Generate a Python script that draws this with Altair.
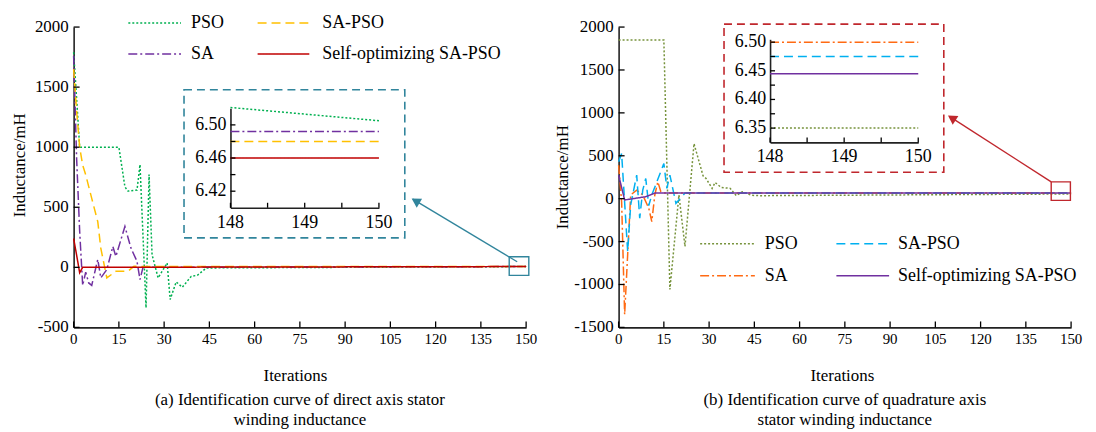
import altair as alt
import pandas as pd

FONT = "Liberation Serif"
W, H = 455, 302

series_names = ["PSO", "SA", "SA-PSO", "Self-optimizing SA-PSO"]

# ---------------- (a) direct axis ----------------
d_pso_x = [0, 1, 2, 15, 17, 18, 21, 22, 24, 25, 26, 28, 31, 32, 34, 36, 39, 41, 44, 150]
d_pso_y = [1790, 1400, 1000, 1000, 670, 635, 643, 855, -337, 772, 105, -88, 36, -268, -121, -166, -75, -66, -5, 6.5]
d_sa_x = [0, 1, 2, 3, 4, 5, 6, 8, 9, 11, 13, 14, 17, 19, 21, 22, 23, 150]
d_sa_y = [1760, 900, 300, -150, -40, -130, -150, 66, -88, -19, 174, 91, 340, 160, 50, -102, 0, 6.49]
d_sapso_x = [0, 1, 2, 3, 4, 6, 8, 9, 11, 14, 18, 20, 150]
d_sapso_y = [1650, 1300, 1000, 850, 770, 574, 380, 160, -88, -33, -33, 8, 6.48]
d_self_x = [0, 1, 2, 3, 150]
d_self_y = [240, 100, -45, 0, 6.46]

d_inset_x = [148, 150]
d_inset_pso = [6.521, 6.505]
d_inset_sa = [6.492, 6.492]
d_inset_sapso = [6.480, 6.480]
d_inset_self = [6.460, 6.460]

# ---------------- (b) quadrature axis ----------------
q_pso_x = [0, 15, 17, 20, 22, 25, 28, 29, 31, 32, 34, 37, 39, 41, 44, 47, 150]
q_pso_y = [1850, 1850, -1058, 43, -556, 641, 266, 235, 120, 189, 131, 120, 35, 81, 40, 35, 55]
q_sa_x = [0, 1, 2, 3, 4, 6, 8, 10, 11, 12, 13, 14, 15, 150]
q_sa_y = [390, -35, -1349, -653, 43, 100, 43, -112, -267, 43, 197, 81, 65, 65]
q_sapso_x = [0, 1, 3, 4, 6, 7, 8, 9, 10, 11, 15, 16, 17, 19, 20, 22, 150]
q_sapso_y = [430, 525, -614, -73, 275, -228, 100, 235, -80, 43, 409, 120, 275, -54, -15, 65, 65]
q_self_x = [0, 2, 9, 12, 150]
q_self_y = [275, -15, 23, 65, 65]

q_inset_x = [148, 150]
q_inset_pso = [6.35, 6.35]
q_inset_sa = [6.50, 6.50]
q_inset_sapso = [6.475, 6.475]
q_inset_self = [6.445, 6.445]

x_ticks = list(range(0, 151, 15))
d_y_ticks = [-500, 0, 500, 1000, 1500, 2000]
q_y_ticks = [-1500, -1000, -500, 0, 500, 1000, 1500, 2000]
inset_x_ticks = [148, 148.5, 149, 149.5, 150]
inset_x_labels = [148, 149, 150]
d_inset_y_ticks = [6.42, 6.44, 6.46, 6.48, 6.50]
d_inset_y_labels = [6.42, 6.46, 6.50]
q_inset_y_ticks = [6.35, 6.375, 6.40, 6.425, 6.45, 6.475, 6.50]
q_inset_y_labels = [6.35, 6.40, 6.45, 6.50]

d_colors = ["#00B050", "#7030A0", "#FFC000", "#C00000"]
q_colors = ["#77933C", "#FF6A13", "#00B0F0", "#7030A0"]
dashes = [[2, 2], [9, 3, 2, 3], [9, 5], [1, 0]]

x_title = "Iterations"
y_title = "Inductance/mH"
caption_a = ["(a) Identification curve of direct axis stator", "winding inductance"]
caption_b = ["(b) Identification curve of quadrature axis", "stator winding inductance"]


def long_df(xs, ys):
    rows = []
    for nm, xv, yv in zip(series_names, xs, ys):
        for a, b in zip(xv, yv):
            rows.append({"it": a, "val": b, "name": nm})
    return pd.DataFrame(rows)


def panel(df, inset_df, colors, ydom, yticks, inset_xr, inset_yr, inset_ydom,
          inset_yticks, inset_ylabels, legend_pos, box, box_color,
          zoombox, arrow, arrow_angle, caption, ytitle_pos, xtitle_x):
    xs = alt.Scale(domain=[0, 150], nice=False, zero=False)
    ys = alt.Scale(domain=ydom, nice=False, zero=False)
    color = alt.Color("name:N", scale=alt.Scale(domain=series_names, range=colors), legend=None)
    dash = alt.StrokeDash("name:N", scale=alt.Scale(domain=series_names, range=dashes), legend=None)
    one = alt.Data(values=[{}])
    dom = dict(labels=False, ticks=False, title=None, grid=False,
               domainColor="#222222", domainWidth=1.6)
    txt = dict(font=FONT, color="black")

    lines = alt.Chart(df).mark_line(strokeWidth=1.5).encode(
        x=alt.X("it:Q", scale=xs, axis=alt.Axis(orient="bottom", **dom)),
        y=alt.Y("val:Q", scale=ys, axis=alt.Axis(orient="left", **dom)),
        color=color, strokeDash=dash)
    xt = alt.Chart(pd.DataFrame({"it": x_ticks})).mark_rule(color="black", strokeWidth=1.3).encode(
        x=alt.X("it:Q", scale=xs, axis=None), y=alt.value(H), y2=alt.value(H - 6))
    yt = alt.Chart(pd.DataFrame({"val": yticks})).mark_rule(color="black", strokeWidth=1.3).encode(
        y=alt.Y("val:Q", scale=ys, axis=None), x=alt.value(0), x2=alt.value(6))
    xl = alt.Chart(pd.DataFrame({"it": x_ticks, "lab": [str(v) for v in x_ticks]})).mark_text(
        align="center", baseline="middle", fontSize=15, **txt).encode(
        x=alt.X("it:Q", scale=xs, axis=None), y=alt.value(H + 12), text="lab:N")
    yl = alt.Chart(pd.DataFrame({"val": yticks, "lab": [str(v) for v in yticks]})).mark_text(
        align="right", baseline="middle", fontSize=17, **txt).encode(
        y=alt.Y("val:Q", scale=ys, axis=None), x=alt.value(-5), text="lab:N")
    xtt = alt.Chart(one).mark_text(text=x_title, align="center", baseline="middle", fontSize=17,
                                   **txt).encode(x=alt.value(xtitle_x), y=alt.value(H + 49))
    ytt = alt.Chart(one).mark_text(text=y_title, align="center", baseline="middle", fontSize=17,
                                   angle=270, **txt).encode(
        x=alt.value(ytitle_pos[0]), y=alt.value(ytitle_pos[1]))

    layers = [lines, xt, yt, xl, yl, xtt, ytt]
    for nm, c, d, (x0, x1, tx, yy) in zip(series_names, colors, dashes, legend_pos):
        layers.append(alt.Chart(one).mark_rule(color=c, strokeDash=d, strokeWidth=1.5).encode(
            x=alt.value(x0), x2=alt.value(x1), y=alt.value(yy)))
        layers.append(alt.Chart(one).mark_text(text=nm, align="left", baseline="middle",
                                               fontSize=18, **txt).encode(
            x=alt.value(tx), y=alt.value(yy)))
    bx0, by0, bx1, by1 = box
    layers.append(alt.Chart(one).mark_rect(filled=False, stroke=box_color, strokeDash=[8, 5],
                                           strokeWidth=1.6).encode(
        x=alt.value(bx0), x2=alt.value(bx1), y=alt.value(by0), y2=alt.value(by1)))
    zx0, zy0, zx1, zy1 = zoombox
    layers.append(alt.Chart(one).mark_rect(filled=False, stroke=box_color, strokeWidth=1.4).encode(
        x=alt.value(zx0), x2=alt.value(zx1), y=alt.value(zy0), y2=alt.value(zy1)))
    ax0, ay0, ax1, ay1, hx, hy = arrow
    layers.append(alt.Chart(one).mark_rule(color=box_color, strokeWidth=1.4).encode(
        x=alt.value(ax0), y=alt.value(ay0), x2=alt.value(ax1), y2=alt.value(ay1)))
    layers.append(alt.Chart(one).mark_point(shape="triangle-up", filled=True, size=110, opacity=1,
                                            color=box_color, angle=arrow_angle).encode(
        x=alt.value(hx), y=alt.value(hy)))

    ixs = alt.Scale(domain=[148, 150], range=list(inset_xr), nice=False, zero=False)
    iys = alt.Scale(domain=inset_ydom, range=[inset_yr[0], inset_yr[1]], nice=False, zero=False)
    ilines = alt.Chart(inset_df).mark_line(strokeWidth=1.5).encode(
        x=alt.X("it:Q", scale=ixs, axis=alt.Axis(orient="bottom", offset=-(H - inset_yr[0]), **dom)),
        y=alt.Y("val:Q", scale=iys, axis=alt.Axis(orient="left", offset=-inset_xr[0], **dom)),
        color=color, strokeDash=dash)
    ixt = alt.Chart(pd.DataFrame({"it": inset_x_ticks})).mark_rule(color="black", strokeWidth=1.3).encode(
        x=alt.X("it:Q", scale=ixs, axis=None), y=alt.value(inset_yr[0]), y2=alt.value(inset_yr[0] - 5))
    iyt = alt.Chart(pd.DataFrame({"val": inset_yticks})).mark_rule(color="black", strokeWidth=1.3).encode(
        y=alt.Y("val:Q", scale=iys, axis=None), x=alt.value(inset_xr[0]), x2=alt.value(inset_xr[0] + 5))
    ixl = alt.Chart(pd.DataFrame({"it": inset_x_labels, "lab": [str(v) for v in inset_x_labels]})).mark_text(
        align="center", baseline="middle", fontSize=18, **txt).encode(
        x=alt.X("it:Q", scale=ixs, axis=None), y=alt.value(inset_yr[0] + 15), text="lab:N")
    iyl = alt.Chart(pd.DataFrame({"val": inset_ylabels, "lab": [f"{v:.2f}" for v in inset_ylabels]})).mark_text(
        align="right", baseline="middle", fontSize=18, **txt).encode(
        y=alt.Y("val:Q", scale=iys, axis=None), x=alt.value(inset_xr[0] - 4), text="lab:N")
    layers += [ilines, ixt, iyt, ixl, iyl]

    return alt.layer(*layers).resolve_scale(x="independent", y="independent").properties(
        width=W, height=H,
        title=alt.TitleParams(text=caption, orient="bottom", anchor="middle", frame="group",
                              font=FONT, fontSize=17, fontWeight="normal", lineHeight=20, offset=8))


df_a = long_df([d_pso_x, d_sa_x, d_sapso_x, d_self_x], [d_pso_y, d_sa_y, d_sapso_y, d_self_y])
inset_a = long_df([d_inset_x] * 4, [d_inset_pso, d_inset_sa, d_inset_sapso, d_inset_self])
df_b = long_df([q_pso_x, q_sa_x, q_sapso_x, q_self_x], [q_pso_y, q_sa_y, q_sapso_y, q_self_y])
inset_b = long_df([q_inset_x] * 4, [q_inset_pso, q_inset_sa, q_inset_sapso, q_inset_self])

left = panel(df_a, inset_a, d_colors, [-500, 2000], d_y_ticks,
             (157.7, 307), (181.7, 81.7), [6.40, 6.52], d_inset_y_ticks, d_inset_y_labels,
             [(55, 108, 118, -4), (55, 108, 118, 27), (185, 237, 250, -4), (185, 237, 250, 27)],
             (111, 63, 333, 212), "#31859C", (438, 231, 457.7, 249.7),
             (446, 236, 341, 173, 343.8, 174.8), 301, caption_a, (-54, 139), 223)

right = panel(df_b, inset_b, q_colors, [-1500, 2000], q_y_ticks,
              (152.3, 301.3), (116, 12.3), [6.325, 6.505], q_inset_y_ticks, q_inset_y_labels,
              [(82, 137, 147, 218), (82, 137, 147, 250), (219, 272, 281, 218), (219, 272, 281, 250)],
              (106, -3, 327, 146), "#C0272D", (435, 155.7, 454.3, 174.3),
              (435, 155.7, 333, 90, 335, 91.3), 303, caption_b, (-55.4, 151), 225)

chart = alt.hconcat(left, right, spacing=93, bounds="flush").resolve_scale(
    color="independent", strokeDash="independent"
).properties(
    padding={"left": 3, "top": 5, "right": 5, "bottom": 0}
).configure(font=FONT).configure_view(stroke=None).configure_text(font=FONT)

chart.save("out.html", embed_options={"renderer": "svg", "actions": False})
